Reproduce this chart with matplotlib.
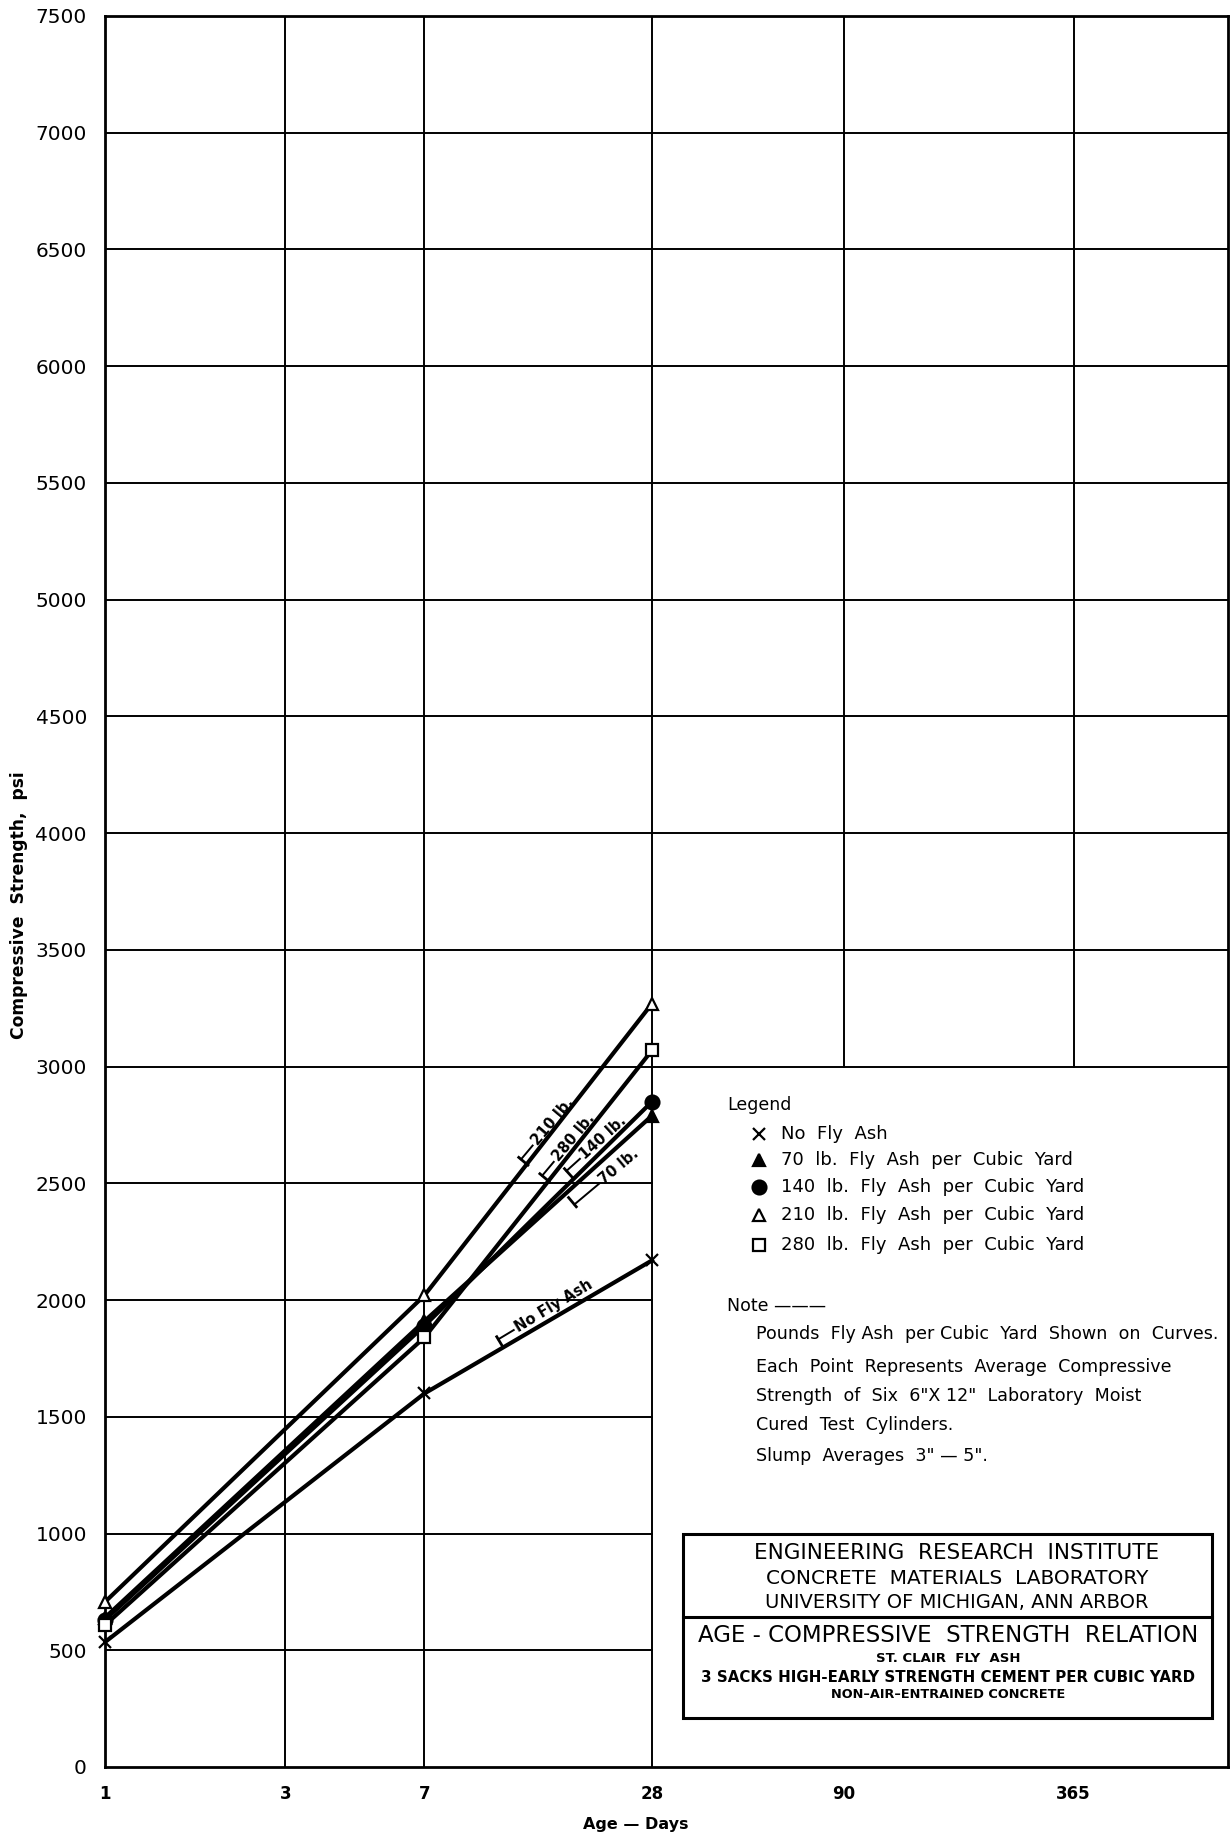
import numpy as np
import matplotlib
matplotlib.use("Agg")
import matplotlib.pyplot as plt
from matplotlib.patches import Rectangle
from matplotlib.lines import Line2D

# age in days and compressive strength (psi) per mix
days = [1, 7, 28]
no_ash = [535, 1600, 2170]
ash_70 = [640, 1910, 2790]
ash_140 = [630, 1890, 2850]
ash_210 = [707, 2020, 3270]
ash_280 = [608, 1840, 3070]

x_ticks = [1, 3, 7, 28, 90, 365]
x_tick_labels = ["1", "3", "7", "28", "90", "365"]
y_ticks = list(range(0, 7501, 500))

legend_labels = ["No  Fly  Ash",
                 "70  lb.  Fly  Ash  per  Cubic  Yard",
                 "140  lb.  Fly  Ash  per  Cubic  Yard",
                 "210  lb.  Fly  Ash  per  Cubic  Yard",
                 "280  lb.  Fly  Ash  per  Cubic  Yard"]

# curve labels: text, centre day, centre psi, angle, side of curve (+1 above, -1 below)
curve_labels = [("210 lb.", 15.3, 2765, 50, 1),
                ("280 lb.", 17.4, 2695, 50, 1),
                ("140 lb.", 20.8, 2695, 42, 1),
                ("70 lb.", 22.9, 2570, 40, -1),
                ("No Fly Ash", 15.4, 1975, 31, 1)]

note_lines = ["Pounds  Fly Ash  per Cubic  Yard  Shown  on  Curves.",
              "Each  Point  Represents  Average  Compressive",
              "Strength  of  Six  6\"X 12\"  Laboratory  Moist",
              "Cured  Test  Cylinders.",
              "Slump  Averages  3\" \u2014 5\"."]

W, H = 1232, 1838
plt.rcParams['font.family'] = ['DejaVu Sans']

def fx(px):
    return px / W

def fy(py):
    return 1 - py / H

fig = plt.figure(figsize=(W / 100, H / 100), dpi=100)
ax = fig.add_axes([fx(105), fy(1767), 1123 / W, 1751 / H])
ax.set_xscale('log')
ax.set_xlim(1, 935)
ax.set_ylim(0, 7500)

# grid, left blank in the lower right where the notes sit
for x in [3, 7, 28]:
    ax.plot([x, x], [0, 7500], color='black', lw=1.4, zorder=1)
for x in [90, 365]:
    ax.plot([x, x], [3000, 7500], color='black', lw=1.4, zorder=1)
for y in y_ticks[1:-1]:
    x_end = 935 if y >= 3000 else 28
    ax.plot([1, x_end], [y, y], color='black', lw=1.4, zorder=1)

series = [(no_ash, 'x', 'black'), (ash_70, '^', 'black'), (ash_140, 'o', 'black'),
          (ash_210, '^', 'white'), (ash_280, 's', 'white')]
for vals, mk, fc in series:
    ax.plot(days, vals, color='black', lw=3.0, zorder=3)
for vals, mk, fc in series:
    size = 10 if mk == 'o' else 9
    ax.plot(days, vals, ls='none', marker=mk, ms=size, mfc=fc, mec='black',
            mew=1.6, zorder=4, clip_on=False)

# curve labels with a leader and a small tick toward the curve
renderer = fig.canvas.get_renderer()
inv = ax.transData.inverted()
for text, d, v, ang, side in curve_labels:
    cx0, cy0 = ax.transData.transform((d, v))
    t = ax.text(d, v, text, ha='center', va='center', fontsize=10.5,
                fontweight='bold', zorder=5)
    w = t.get_window_extent(renderer).width
    t.set_rotation(ang)
    t.set_rotation_mode('anchor')
    a = np.radians(ang)
    ux, uy = np.cos(a), np.sin(a)
    nx, ny = -uy, ux
    lead = 32 if side < 0 else 18
    sx, sy = cx0 - ux * (w / 2 + 3), cy0 - uy * (w / 2 + 3)
    ex, ey = sx - ux * lead, sy - uy * lead
    ld = inv.transform([(sx, sy), (ex, ey)])
    ax.plot(ld[:, 0], ld[:, 1], color='black', lw=1.4, zorder=5)
    tk = inv.transform([(ex + side * nx * 3, ey + side * ny * 3),
                        (ex - side * nx * 9, ey - side * ny * 9)])
    ax.plot(tk[:, 0], tk[:, 1], color='black', lw=2.0, zorder=5)

ax.set_xticks(x_ticks)
ax.set_xticklabels(x_tick_labels, fontsize=12, fontweight='bold')
ax.xaxis.set_minor_locator(matplotlib.ticker.NullLocator())
ax.set_yticks(y_ticks)
ax.set_yticklabels([str(v) for v in y_ticks], fontsize=14.5)
ax.tick_params(axis='both', length=0)
ax.tick_params(axis='y', pad=13)
ax.tick_params(axis='x', pad=13)
for s in ax.spines.values():
    s.set_linewidth(2.0)

fig.text(fx(636), fy(1825), "Age \u2014 Days", ha='center', va='center',
         fontsize=11.5, fontweight='bold')
fig.text(fx(19), fy(905), "Compressive  Strength,  psi", rotation=90,
         ha='center', va='center', fontsize=12.3, fontweight='bold')

# legend
fig.text(fx(727), fy(1105), "Legend", ha='left', va='center', fontsize=12.5)
row_y = [1134, 1160, 1187, 1215, 1245]
for (vals, mk, fc), lab, py in zip(series, legend_labels, row_y):
    fig.add_artist(Line2D([fx(759)], [fy(py)], marker=mk, ms=8 if mk != 'o' else 10,
                          mfc=fc, mec='black', mew=1.6, ls='none'))
    fig.text(fx(781), fy(py), lab, ha='left', va='center', fontsize=13)

fig.text(fx(727), fy(1306), "Note \u2014\u2014\u2014", ha='left', va='center', fontsize=12.5)
for line, py in zip(note_lines, [1334, 1367, 1396, 1425, 1456]):
    fig.text(fx(756), fy(py), line, ha='left', va='center', fontsize=12.6)

# title block
fig.add_artist(Rectangle((fx(683), fy(1718)), (1212 - 683) / W, (1718 - 1534) / H,
                         transform=fig.transFigure, fill=False, lw=2.2, ec='black'))
fig.add_artist(Line2D([fx(683), fx(1212)], [fy(1617), fy(1617)], color='black', lw=2.2))
cx = fx(948)
cx_top = fx(957)
fig.text(cx_top, fy(1553), "ENGINEERING  RESEARCH  INSTITUTE", ha='center', va='center', fontsize=15.5)
fig.text(cx_top, fy(1578), "CONCRETE  MATERIALS  LABORATORY", ha='center', va='center', fontsize=14.5)
fig.text(cx_top, fy(1602), "UNIVERSITY OF MICHIGAN, ANN ARBOR", ha='center', va='center', fontsize=14)
fig.text(cx, fy(1636), "AGE - COMPRESSIVE  STRENGTH  RELATION", ha='center', va='center', fontsize=16.5)
fig.text(cx, fy(1658), "ST. CLAIR  FLY  ASH", ha='center', va='center', fontsize=9.5, fontweight='bold')
fig.text(cx, fy(1677), "3 SACKS HIGH-EARLY STRENGTH CEMENT PER CUBIC YARD", ha='center',
         va='center', fontsize=10.8, fontweight='bold')
fig.text(cx, fy(1694), "NON\u2013AIR\u2013ENTRAINED CONCRETE", ha='center', va='center',
         fontsize=9.3, fontweight='bold')

fig.savefig("out.png", dpi=100)
